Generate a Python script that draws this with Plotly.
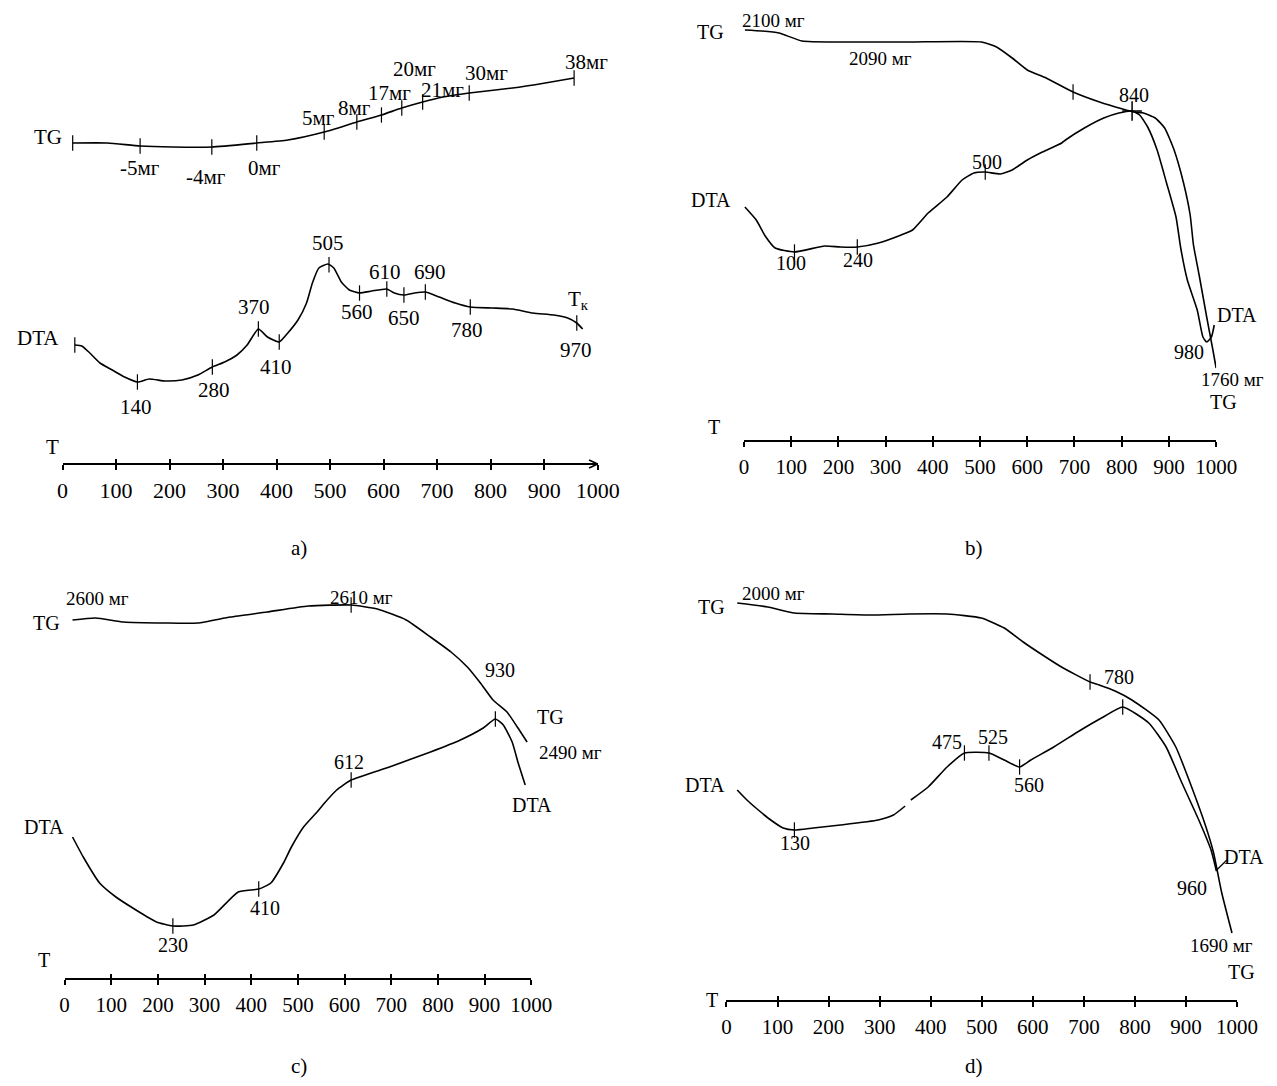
import numpy as np
import plotly.graph_objects as go

# page -> figure pixel mapping (compensates the page margin / capture scaling)
OFF_Y = 8
SX, OFF_X = 0.98, 12.8
W, H = 1277, 1086 - 2 * OFF_Y
FONT = "Liberation Serif"
T_TICKS = list(range(0, 1001, 100))

# ---------------- panel a ----------------
a_tg_T = [19, 84, 145, 206, 279, 363, 421, 489, 550, 596, 634, 673, 711, 760, 841, 902, 956]
a_tg_h = [321, 321, 318, 317, 317, 321, 324, 332, 342, 349, 356, 362, 367, 371, 376, 381, 386]
a_tg_marks = [19, 145, 279, 363, 489, 550, 596, 634, 673, 760, 956]

a_dta_T = [23, 36, 51, 70, 93, 116, 140, 162, 192, 223, 253, 280, 303, 326, 345, 366, 383, 405,
           421, 440, 456, 467, 479, 496, 507, 521, 536, 555, 578, 606, 620, 638, 658, 678, 704,
           734, 762, 803, 841, 879, 918, 944, 961, 972]
a_dta_h = [119, 118, 111, 101, 94, 87, 82, 85, 83, 84, 89, 97, 102, 109, 119, 135, 127, 122,
           131, 144, 161, 181, 196, 200, 196, 182, 174, 171, 173, 175, 171, 169, 171, 172, 167,
           161, 157, 156, 155, 151, 149, 146, 141, 135]
a_dta_marks = [23, 140, 280, 366, 405, 498, 555, 606, 638, 678, 762, 961]

# ---------------- panel b ----------------
b_tg_T = [2, 38, 74, 123, 204, 349, 503, 535, 568, 600, 640, 697, 753, 802, 826, 846, 871, 891,
          911, 931, 945, 952, 964, 980, 992, 1000]
b_tg_h = [411, 410, 408, 400, 399, 399, 399, 394, 383, 371, 363, 349, 339, 332, 329, 328, 323, 313,
          291, 258, 226, 196, 166, 124, 94, 73]
b_tg_marks = [697]

b_dta_T = [2, 26, 45, 66, 107, 171, 204, 240, 285, 333, 357, 390, 430, 462, 487, 511, 543, 568,
           600, 632, 673, 681, 721, 762, 794, 822, 838, 855, 875, 895, 915, 925, 939, 960, 972,
           980, 990, 996]
b_dta_h = [234, 221, 205, 193, 189, 195, 194, 194, 198, 206, 211, 228, 244, 261, 268, 269, 267, 271,
           281, 289, 298, 301, 313, 323, 328, 330, 326, 314, 291, 258, 224, 193, 161, 131, 104,
           99, 104, 116]
b_dta_marks = [107, 240, 511]
b_cross = [822]

# ---------------- panel c ----------------
c_tg_T = [17, 66, 127, 215, 285, 355, 434, 522, 614, 670, 732, 784, 828, 863, 891, 918, 948, 970, 991]
c_tg_h = [359, 361, 357, 356, 356, 362, 367, 373, 374, 370, 359, 342, 327, 312, 296, 279, 267, 252, 237]
c_tg_marks = [614]

c_dta_T = [17, 40, 75, 110, 153, 197, 232, 276, 320, 372, 416, 442, 469, 486, 512, 539, 557, 583,
           614, 696, 784, 848, 897, 923, 940, 959, 972, 987]
c_dta_h = [142, 122, 96, 82, 69, 57, 53, 54, 64, 87, 90, 96, 116, 132, 152, 166, 176, 189,
           199, 212, 227, 239, 251, 260, 254, 237, 216, 194]
c_dta_marks = [232, 416, 614, 923]

# ---------------- panel d ----------------
d_tg_T = [21, 81, 133, 208, 283, 357, 432, 499, 544, 581, 619, 656, 712, 730, 761, 794, 847, 880,
          911, 939, 954, 970, 990]
d_tg_h = [398, 394, 388, 387, 386, 387, 387, 383, 373, 359, 346, 334, 319, 316, 310, 301, 281, 254,
          214, 174, 148, 108, 68]
d_tg_marks = [712]

d_dta_T = [21, 40, 60, 84, 111, 133, 170, 223, 297, 327, 350, None, 361, 395, 432, 466, 514, 544,
           574, 596, 641, 694, 738, 776, 827, 861, 892, 925, 949, 959]
d_dta_h = [211, 201, 192, 182, 173, 171, 173, 176, 181, 186, 195, None, 201, 214, 234, 248, 248, 241,
           234, 241, 254, 271, 284, 294, 278, 254, 218, 181, 151, 131]
d_dta_marks = [133, 466, 514, 574, 776]

# ---------------- geometry (page pixels of T=0, T=1000 and axis baseline) ----------------
PANELS = {
    "a": dict(x0=61.4, x1=597.6, base=464, top=True, ax=""),
    "b": dict(x0=744.2, x1=1217.3, base=441, top=True, ax="2"),
    "c": dict(x0=63.5, x1=531.1, base=979, top=False, ax="3"),
    "d": dict(x0=726.7, x1=1238.3, base=1001, top=False, ax="4"),
}
OVER = {"a": "5", "b": "6", "c": "7", "d": "8"}
TICK_FONT = {"a": 22, "b": 21, "c": 21, "d": 21}


def fig_x(px):
    return (px - OFF_X) / SX


def px_x(px):
    return fig_x(px) / W


def px_y(py):
    return 1 - (py - OFF_Y) / H


fig = go.Figure()
line_style = dict(color="black", width=1.6)
mark_style = dict(symbol="line-ns", size=11, color="black", line=dict(width=1.2, color="black"))


def add_curve(p, T, h, marks=None):
    ax = PANELS[p]["ax"]
    fig.add_trace(go.Scatter(x=T, y=h, mode="lines", line=dict(shape="spline", smoothing=0.5, **line_style),
                             xaxis="x" + ax, yaxis="y" + ax, cliponaxis=False, showlegend=False,
                             hoverinfo="skip", connectgaps=False))
    if marks:
        Tv = np.array([t for t in T if t is not None], dtype=float)
        hv = np.array([v for v in h if v is not None], dtype=float)
        fig.add_trace(go.Scatter(x=marks, y=np.interp(marks, Tv, hv), mode="markers", marker=mark_style,
                                 xaxis="x" + ax, yaxis="y" + ax, cliponaxis=False, showlegend=False,
                                 hoverinfo="skip"))


add_curve("a", a_tg_T, a_tg_h, a_tg_marks)
add_curve("a", a_dta_T, a_dta_h, a_dta_marks)
add_curve("b", b_tg_T, b_tg_h, b_tg_marks)
add_curve("b", b_dta_T, b_dta_h, b_dta_marks)
fig.add_trace(go.Scatter(x=b_cross, y=np.interp(b_cross, b_dta_T, b_dta_h), mode="markers",
                         marker=dict(symbol="cross-thin", size=14, line=dict(width=1.5, color="black")),
                         xaxis="x2", yaxis="y2", cliponaxis=False, showlegend=False, hoverinfo="skip"))
add_curve("c", c_tg_T, c_tg_h, c_tg_marks)
add_curve("c", c_dta_T, c_dta_h, c_dta_marks)
add_curve("d", d_tg_T, d_tg_h, d_tg_marks)
add_curve("d", d_dta_T, d_dta_h, d_dta_marks)

layout = dict(width=W, height=H, margin=dict(l=0, r=0, t=0, b=0),
              paper_bgcolor="white", plot_bgcolor="rgba(0,0,0,0)", showlegend=False,
              font=dict(family=FONT, color="black", size=20))

HALF = H / 2
for p, g in PANELS.items():
    ax = g["ax"]
    base_f = g["base"] - OFF_Y
    dom_x = [px_x(g["x0"]), px_x(g["x1"])]
    if g["top"]:
        dom_y = [0.5, 1.0]
        rng_y = [base_f - HALF, base_f]
    else:
        dom_y = [0.0, 0.5]
        rng_y = [base_f - H, base_f - HALF]
    pos = 1 - base_f / H
    layout["xaxis" + ax] = dict(domain=dom_x, range=[0, 1000], anchor="free", position=pos,
                                showline=True, linecolor="black", linewidth=2,
                                ticks="outside", ticklen=5, tickwidth=1.5, tickcolor="black",
                                tickvals=T_TICKS, ticktext=[str(v) for v in T_TICKS],
                                tickfont=dict(family=FONT, size=TICK_FONT[p], color="black"),
                                ticklabelstandoff=2,
                                showgrid=False, zeroline=False, fixedrange=True)
    layout["yaxis" + ax] = dict(domain=dom_y, range=rng_y, anchor="x" + ax, visible=False,
                                showgrid=False, zeroline=False, fixedrange=True)
    o = OVER[p]
    layout["xaxis" + o] = dict(overlaying="x" + ax, range=[0, 1000], anchor="free", position=pos,
                               showline=False, ticks="inside", ticklen=5, tickwidth=1.5,
                               tickcolor="black", tickvals=T_TICKS, showticklabels=False,
                               showgrid=False, zeroline=False, fixedrange=True)
    fig.add_trace(go.Scatter(x=[None], y=[None], xaxis="x" + o, yaxis="y" + ax, showlegend=False,
                             hoverinfo="skip"))

fig.update_layout(**layout)

ann = []

A_LABELS = [("TG", 47, 137), ("-5мг", 139, 168), ("-4мг", 205, 177), ("0мг", 264, 168),
            ("5мг", 318, 118), ("8мг", 354, 108), ("17мг", 389, 93), ("21мг", 442, 90),
            ("20мг", 414, 69), ("30мг", 486, 73), ("38мг", 586, 62), ("DTA", 37, 338),
            ("140", 135, 407), ("280", 213, 390), ("370", 253, 307), ("410", 275, 367),
            ("505", 327, 243), ("560", 356, 312), ("610", 385, 272), ("650", 404, 318),
            ("690", 430, 272), ("780", 467, 330), ("T<sub>к</sub>", 578, 300), ("970", 576, 350),
            ("T", 51, 447)]
B_LABELS = [("TG", 711, 32), ("2100 мг", 774, 20), ("2090 мг", 881, 58), ("840", 1135, 95),
            ("DTA", 711, 200), ("100", 791, 263), ("240", 858, 260), ("500", 988, 162),
            ("DTA", 1238, 315), ("980", 1190, 352), ("1760 мг", 1234, 380), ("TG", 1225, 402),
            ("T", 714, 427)]
C_LABELS = [("TG", 45, 623), ("2600 мг", 96, 598), ("2610 мг", 361, 597), ("930", 500, 670),
            ("TG", 550, 717), ("2490 мг", 570, 752), ("DTA", 532, 805), ("612", 348, 762),
            ("DTA", 43, 827), ("230", 172, 945), ("410", 264, 908), ("T", 43, 960)]
D_LABELS = [("TG", 712, 607), ("2000 мг", 774, 593), ("780", 1120, 677), ("475", 948, 742),
            ("525", 994, 737), ("560", 1030, 785), ("DTA", 705, 785), ("130", 795, 843),
            ("DTA", 1245, 857), ("960", 1193, 888), ("1690 мг", 1223, 945), ("TG", 1243, 972),
            ("T", 712, 1000)]

for p, labels in (("a", A_LABELS), ("b", B_LABELS), ("c", C_LABELS), ("d", D_LABELS)):
    for t, px, py in labels:
        if p == "a":
            size = 21
        elif "мг" in t:
            size = 19
        else:
            size = 20
        ann.append(dict(text=t, x=px_x(px), y=px_y(py), xref="paper", yref="paper", showarrow=False,
                        xanchor="center", yanchor="middle",
                        font=dict(family=FONT, size=size, color="black")))

# panel captions
for t, px, py in (("a)", 298, 548), ("b)", 975, 548), ("c)", 298, 1066), ("d)", 975, 1066)):
    ann.append(dict(text=t, x=px_x(px), y=px_y(py), xref="paper", yref="paper", showarrow=False,
                    xanchor="center", yanchor="middle", font=dict(family=FONT, size=21, color="black")))

fig.update_layout(annotations=ann)

# arrowhead at the end of panel a temperature axis
fig.add_shape(type="path", xref="x", yref="y", path="M 984,4 L 1000,0 L 984,-4",
              line=dict(color="black", width=1.5))

# leader line from DTA end to its label in panel d
fig.add_shape(type="line", xref="x4", yref="y4", x0=958, y0=130, x1=980, y1=141,
              line=dict(color="black", width=1.2))

fig.write_html("out.html")
